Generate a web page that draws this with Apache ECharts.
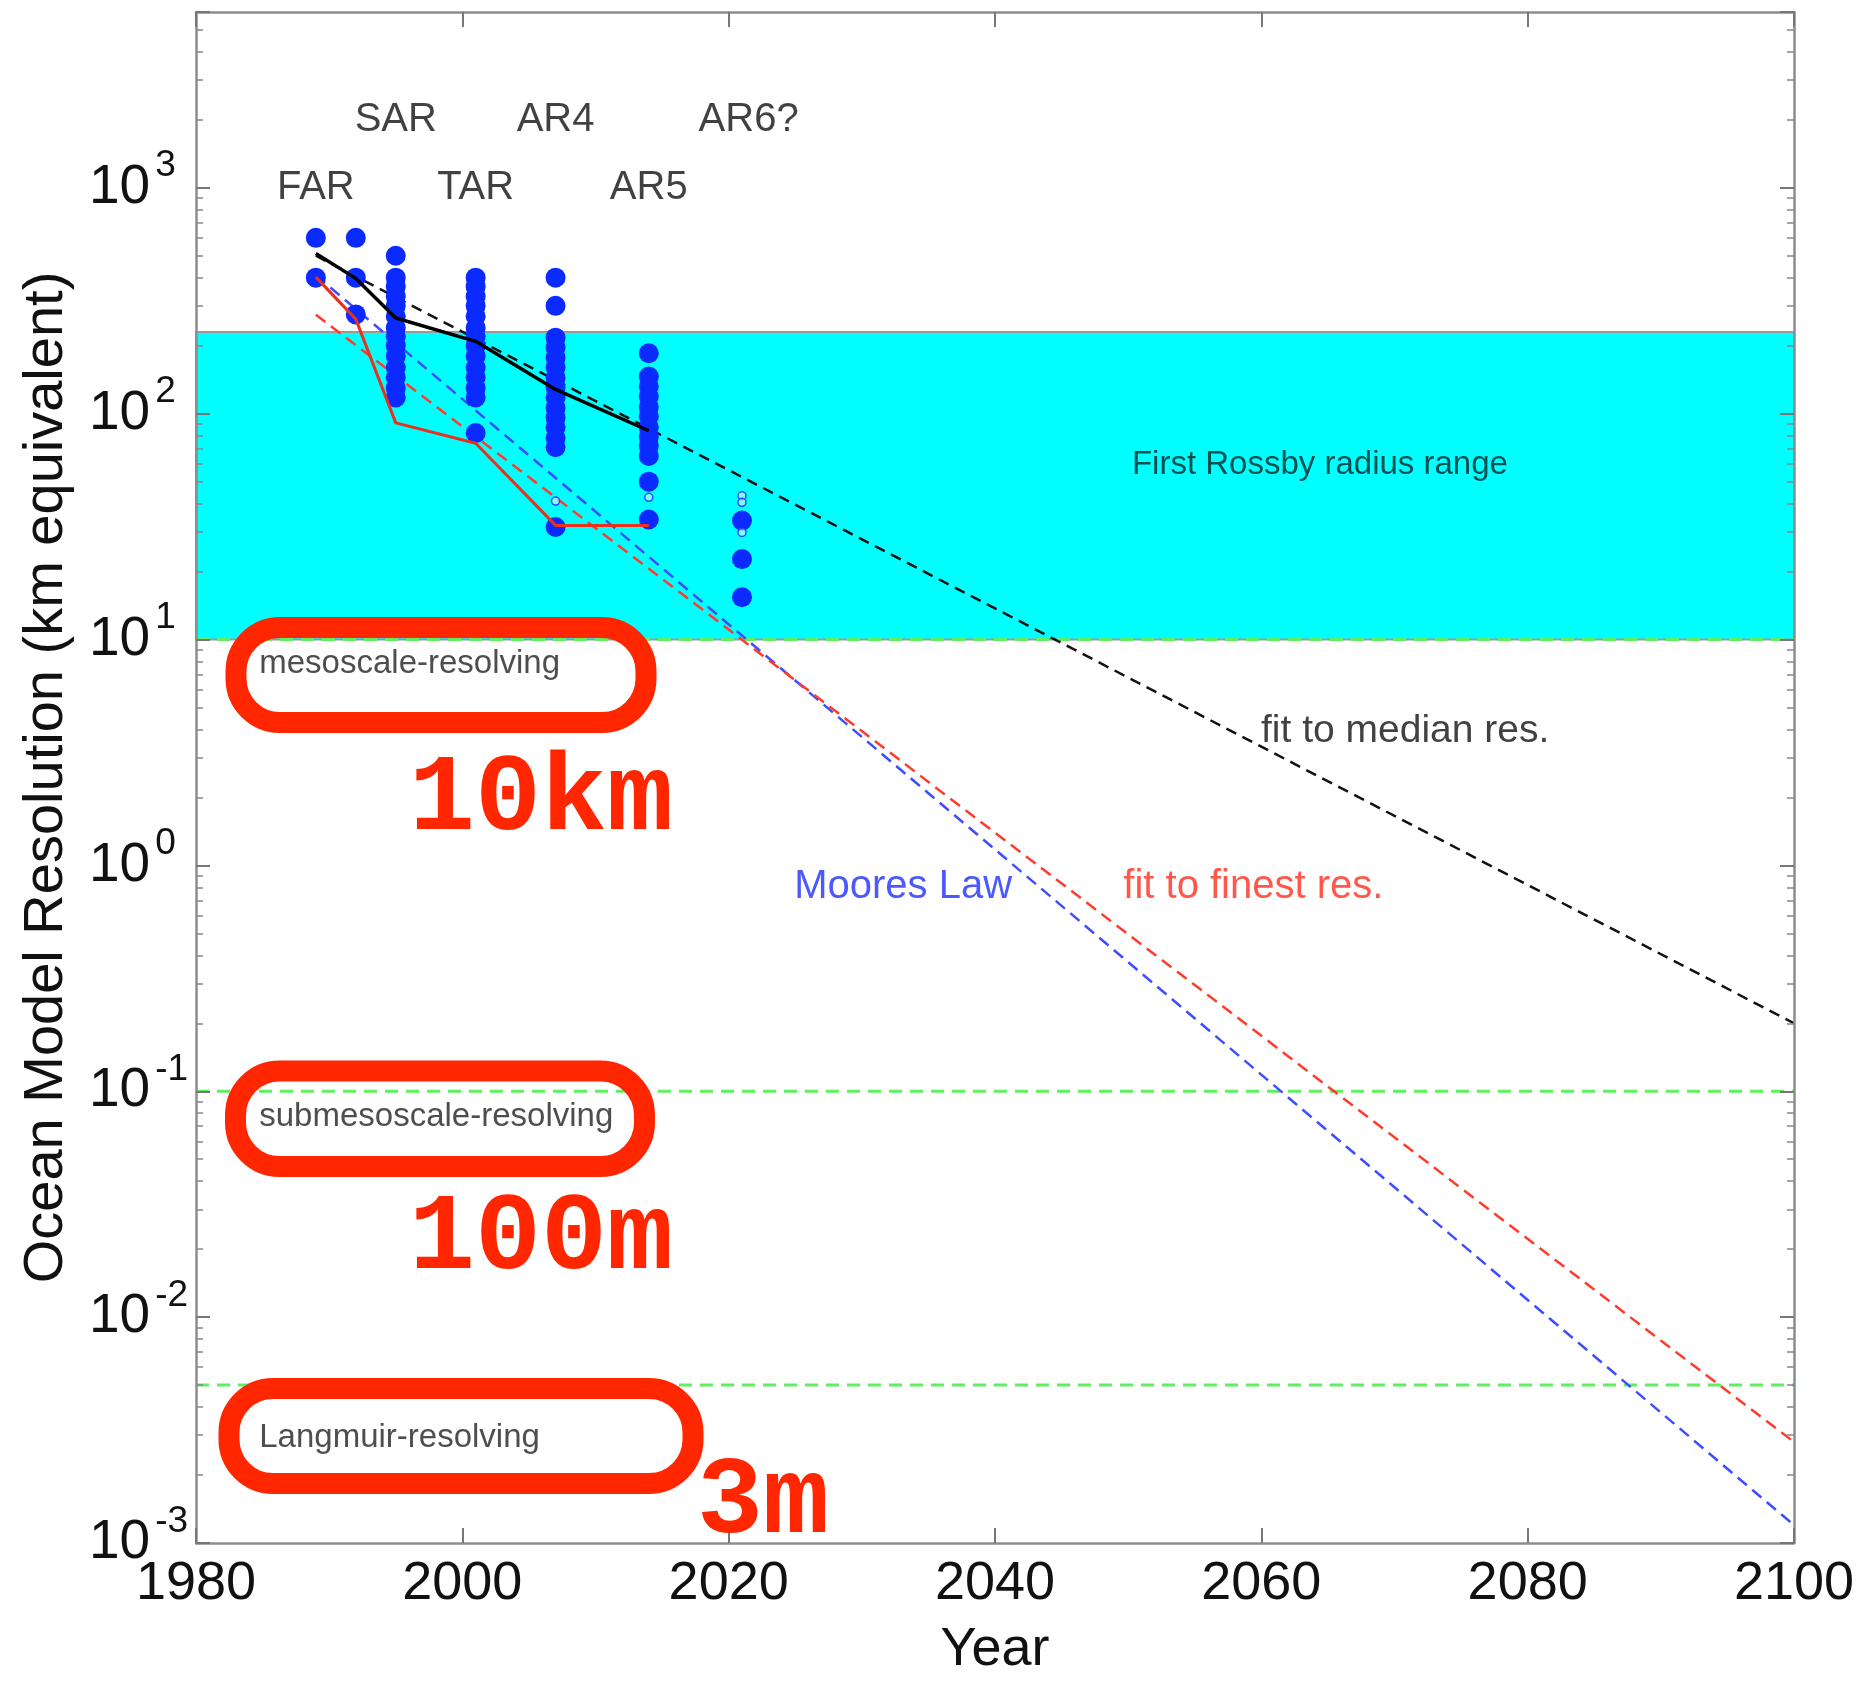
<!DOCTYPE html>
<html><head><meta charset="utf-8">
<script src="https://cdn.jsdelivr.net/npm/echarts@6/dist/echarts.min.js"></script>
<style>html,body{margin:0;padding:0;background:#fff}#c{width:1860px;height:1682px}</style>
</head><body><div id="c"></div>
<script>
// ---------- data ----------
const reportNames = ['FAR', 'SAR', 'TAR', 'AR4', 'AR5', 'AR6?'];
const reportYears = [1989, 1995, 2001, 2007, 2014, 2021.5];
const reportLabelLevel = [1000, 2000, 1000, 2000, 1000, 2000];

const columnYears = [1989, 1992, 1995, 2001, 2007, 2014, 2021];
const res1989 = [600, 400];
const res1992 = [600, 400, 275];
const res1995 = [500, 400, 365, 330, 300, 270, 240, 220, 200, 180, 160, 145, 130, 118];
const res2001 = [400, 365, 330, 300, 270, 240, 220, 200, 180, 160, 145, 130, 118, 82];
const res2007 = [400, 300, 217, 196, 177, 160, 144, 131, 118, 106, 96, 87, 78, 71, 31.5];
const res2014 = [185, 146, 132, 119, 107, 97, 87, 79, 72, 65, 50, 34];
const res2021 = [33.6, 22.7, 15.4];
const openYears = [2007, 2014, 2021, 2021, 2021];
const openRes = [41, 42.6, 43.3, 40.5, 29.8];

const trendYears = [1989, 1992, 1995, 2001, 2007, 2014];
const medianRes = [512, 397, 265, 209, 128, 84];
const finestRes = [402, 262, 91, 74, 32, 32];

const fitYears = [1989, 2100];
const medianFit = [500, 0.2];
const finestFit = [274, 0.0028];
const mooreFit = [410, 0.0012];

const rossbyRange = [10, 230];
const levelYears = [1980, 2100];
const resolvingLevels = [10, 0.1, 0.005];

const annotationTexts = ['First Rossby radius range', 'fit to median res.', 'Moores Law', 'fit to finest res.'];
const regimeTexts = ['mesoscale-resolving', 'submesoscale-resolving', 'Langmuir-resolving'];
const handNotes = ['10km', '100m', '3m'];

// ---------- build ----------
const FONT = '"Liberation Sans", Arial, Helvetica, sans-serif';
const cols = [res1989, res1992, res1995, res2001, res2007, res2014, res2021];
const dotData = [];
cols.forEach((arr, i) => arr.forEach(v => dotData.push([columnYears[i], v])));
const openData = openYears.map((y, i) => [y, openRes[i]]);
const pairs = (xs, ys) => xs.map((x, i) => [x, ys[i]]);

const chart = echarts.init(document.getElementById('c'), null, {renderer: 'canvas'});

const axisLineStyle = {color: '#8d8d8d', width: 2.5};
const xBase = {
  type: 'value', min: 1980, max: 2100, interval: 20,
  axisLine: {show: true, onZero: false, lineStyle: axisLineStyle},
  axisTick: {show: true, inside: true, length: 15, lineStyle: {color: '#777', width: 2}},
  splitLine: {show: false}, z: 10
};
const yBase = {
  type: 'log', logBase: 10, min: 0.001, max: 6000, splitNumber: 6,
  axisLine: {show: true, onZero: false, lineStyle: axisLineStyle},
  axisTick: {show: true, inside: true, length: 14, lineStyle: {color: '#777', width: 2}},
  minorTick: {show: true, splitNumber: 9, length: 7, lineStyle: {color: '#888', width: 1.5}},
  splitLine: {show: false}, minorSplitLine: {show: false}, z: 10
};

function yFmt(v) {
  const e = Math.log10(v);
  const r = Math.round(e);
  if (Math.abs(e - r) > 1e-6) return '';
  return '{a|10}{b|' + (r < 0 ? '-' + (-r) : r) + '}';
}

const annData = [
  {value: [2064.4, 59], label: {formatter: annotationTexts[0], fontSize: 33, color: '#062626'}},
  {value: [2070.8, 3.93], label: {formatter: annotationTexts[1], fontSize: 39, color: '#111'}},
  {value: [2033.1, 0.80], label: {formatter: annotationTexts[2], fontSize: 40, color: '#1f2fff'}},
  {value: [2059.4, 0.80], label: {formatter: annotationTexts[3], fontSize: 40, color: '#ff2d1f'}},
  {value: [1984.75, 7.83], label: {formatter: regimeTexts[0], fontSize: 33, color: '#222', align: 'left'}},
  {value: [1984.75, 0.0773], label: {formatter: regimeTexts[1], fontSize: 33, color: '#222', align: 'left'}},
  {value: [1984.75, 0.00291], label: {formatter: regimeTexts[2], fontSize: 33, color: '#222', align: 'left'}}
];

const RED = '#ff2600';
const boxStyle = {fill: 'none', stroke: RED, lineWidth: 21};
const handFont = 'bold 110px "Liberation Mono", "DejaVu Sans Mono", monospace';

const levelSeries = resolvingLevels.map((v, i) => ({
  name: 'level' + i, type: 'line', z: 2, symbol: 'none', silent: true,
  data: levelYears.map(x => [x, v]),
  lineStyle: {color: '#62ee62', width: 3, type: [13, 8]}
}));

const option = {
  animation: false,
  backgroundColor: '#fff',
  textStyle: {fontFamily: FONT},
  grid: {left: 196, right: 66, top: 12, bottom: 134, containLabel: false},
  xAxis: [
    Object.assign({}, xBase, {
      position: 'bottom',
      axisLabel: {show: true, fontSize: 54, color: '#111', margin: 14, fontFamily: FONT, formatter: v => String(v)},
      name: 'Year', nameLocation: 'middle', nameGap: 80,
      nameTextStyle: {fontSize: 54, color: '#111', fontFamily: FONT}
    }),
    Object.assign({}, xBase, {position: 'top', axisLabel: {show: false}})
  ],
  yAxis: [
    Object.assign({}, yBase, {
      position: 'left',
      axisLabel: {
        show: true, align: 'left', margin: 107, formatter: yFmt,
        rich: {
          a: {fontSize: 55, lineHeight: 80, color: '#111', fontFamily: FONT, verticalAlign: 'middle'},
          b: {fontSize: 37, lineHeight: 24, color: '#111', fontFamily: FONT, verticalAlign: 'top', padding: [0, 0, 0, 5]}
        }
      },
      name: 'Ocean Model Resolution (km equivalent)', nameLocation: 'middle', nameRotate: 90, nameGap: 121,
      nameTextStyle: {fontSize: 56, color: '#111', fontFamily: FONT}
    }),
    Object.assign({}, yBase, {position: 'right', axisLabel: {show: false}})
  ],
  series: [
    {
      name: 'band', type: 'line', data: [], z: 1, silent: true,
      markArea: {
        silent: true,
        itemStyle: {color: '#00ffff', opacity: 1, borderColor: '#9a9a9a', borderWidth: 2},
        data: [[{yAxis: rossbyRange[0]}, {yAxis: rossbyRange[1]}]]
      }
    }
  ].concat(levelSeries, [
    {
      name: 'moore', type: 'line', data: pairs(fitYears, mooreFit), z: 3, symbol: 'none', silent: true,
      lineStyle: {color: '#3d4dff', width: 2.5, type: [12, 7]}
    },
    {
      name: 'finestFit', type: 'line', data: pairs(fitYears, finestFit), z: 3, symbol: 'none', silent: true,
      lineStyle: {color: '#ff3b2b', width: 2.5, type: [12, 7]}
    },
    {
      name: 'medianFit', type: 'line', data: pairs(fitYears, medianFit), z: 3, symbol: 'none', silent: true,
      lineStyle: {color: '#111', width: 2.5, type: [11, 7]}
    },
    {
      name: 'models', type: 'scatter', data: dotData, z: 4, symbol: 'circle', symbolSize: 20, silent: true,
      itemStyle: {color: '#0a2aff', opacity: 1}
    },
    {
      name: 'modelsOpen', type: 'scatter', data: openData, z: 4, symbol: 'circle', symbolSize: 8, silent: true,
      itemStyle: {color: 'rgba(255,255,255,0.5)', borderColor: '#2a48ff', borderWidth: 1.5, opacity: 1}
    },
    {
      name: 'median', type: 'line', data: pairs(trendYears, medianRes), z: 5, symbol: 'none', silent: true,
      lineStyle: {color: '#000', width: 3.5}
    },
    {
      name: 'finest', type: 'line', data: pairs(trendYears, finestRes), z: 5, symbol: 'none', silent: true,
      lineStyle: {color: '#e8321e', width: 3}
    },
    {
      name: 'reports', type: 'scatter', z: 6, symbolSize: 0.1, silent: true,
      itemStyle: {color: 'transparent'},
      data: reportYears.map((y, i) => [y, reportLabelLevel[i], reportNames[i]]),
      label: {show: true, position: 'inside', formatter: p => p.data[2], fontSize: 40, color: '#111', fontFamily: FONT}
    },
    {
      name: 'annotations', type: 'scatter', z: 6, symbolSize: 0.1, silent: true,
      itemStyle: {color: 'transparent'},
      label: {show: true, position: 'inside', fontFamily: FONT},
      data: annData
    }
  ]),
  graphic: [
    {type: 'rect', z: 100, silent: true, shape: {x: 236, y: 627.5, width: 410, height: 95, r: 44}, style: boxStyle},
    {type: 'rect', z: 100, silent: true, shape: {x: 235.5, y: 1071, width: 409, height: 95.5, r: 44}, style: boxStyle},
    {type: 'rect', z: 100, silent: true, shape: {x: 229, y: 1388.5, width: 464, height: 95, r: 44}, style: boxStyle},
    {type: 'text', z: 100, silent: true, x: 541, y: 801, style: {text: handNotes[0], font: handFont, fill: RED, align: 'center', verticalAlign: 'middle', textAlign: 'center', textVerticalAlign: 'middle'}},
    {type: 'text', z: 100, silent: true, x: 541, y: 1240, style: {text: handNotes[1], font: handFont, fill: RED, align: 'center', verticalAlign: 'middle', textAlign: 'center', textVerticalAlign: 'middle'}},
    {type: 'text', z: 100, silent: true, x: 763, y: 1504, style: {text: handNotes[2], font: handFont, fill: RED, align: 'center', verticalAlign: 'middle', textAlign: 'center', textVerticalAlign: 'middle'}}
  ]
};
chart.setOption(option);
</script>
</body></html>
